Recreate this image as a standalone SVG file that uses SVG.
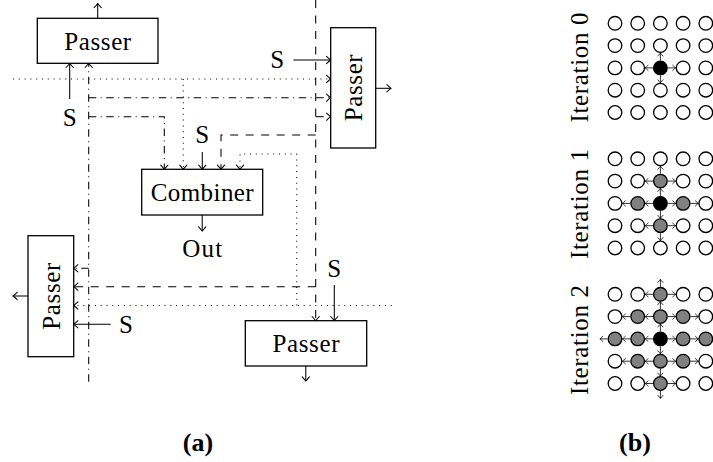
<svg xmlns="http://www.w3.org/2000/svg" width="713" height="462" viewBox="0 0 713 462">
  <defs>
    <style>
      text { font-family: "Liberation Serif", "Times New Roman", serif; fill: #000; }
      .lbl { font-size: 25px; text-anchor: middle; }
      .cap { font-size: 26px; font-weight: bold; text-anchor: middle; }
      .box { fill: #fff; stroke: #000; stroke-width: 1.3; }
      .ln { fill: none; stroke: #000; stroke-width: 1.05; }
      .dashed { stroke-dasharray: 8 7.5; }
      .dotted { stroke-dasharray: 1 4.8; }
      .dashdot { stroke-dasharray: 7.5 4.5 1 4.5; }
      .arr { marker-end: url(#tip); }
      .w { fill: #fff; stroke: #000; stroke-width: 1.3; }
      .g { fill: #808080; stroke: #000; stroke-width: 1.3; }
      .k { fill: #000; stroke: #000; stroke-width: 1.3; }
      .ga { fill: none; stroke: #000; stroke-width: 0.8; marker-end: url(#tip-s); }
    </style>
    <marker id="tip" markerUnits="userSpaceOnUse" viewBox="-6 -5 8 10" refX="0" refY="0" markerWidth="8" markerHeight="10" orient="auto" overflow="visible">
      <path d="M -4.2 -3.6 Q -1.2 -0.9 0 0 Q -1.2 0.9 -4.2 3.6" fill="none" stroke="#000" stroke-width="1.05" stroke-linecap="round"/>
    </marker>
    <marker id="tip-s" markerUnits="userSpaceOnUse" viewBox="-4 -3 5 6" refX="0" refY="0" markerWidth="5" markerHeight="6" orient="auto" overflow="visible">
      <path d="M -3 -2.6 Q -0.9 -0.6 0 0 Q -0.9 0.6 -3 2.6" fill="none" stroke="#000" stroke-width="0.8" stroke-linecap="round"/>
    </marker>
  </defs>

  <rect width="713" height="462" fill="#fff"/>

  <!-- (a) combiner / passer network -->
  <g id="connectors">
    <!-- dash-dot bus -->
    <path class="ln dashdot arr" d="M 88.7 381.7 V 63.3"/>
    <path class="ln dashdot arr" d="M 88.7 97.7 H 330.7"/>
    <path class="ln dashdot arr" d="M 88.7 116.7 H 164.3 V 169.3"/>
    <path class="ln dashdot arr" d="M 88.7 268.3 H 73.7"/>
    <!-- dotted buses -->
    <path class="ln dotted arr" d="M 13 79 H 330.7"/>
    <path class="ln dotted arr" d="M 183.3 79 V 169.3"/>
    <path class="ln dotted arr" d="M 391.7 305.5 H 73.7"/>
    <path class="ln dotted arr" d="M 296.7 305.5 V 154 H 240 V 169.3"/>
    <!-- dashed bus -->
    <path class="ln dashed arr" d="M 315.7 0 V 320.7"/>
    <path class="ln dashed arr" d="M 315.7 116.7 H 330.7"/>
    <path class="ln dashed arr" d="M 315.7 135 H 221 V 169.3"/>
    <path class="ln dashed arr" d="M 315.7 286.7 H 73.7"/>
    <!-- S inputs -->
    <path class="ln arr" d="M 69.7 99 V 63.3"/>
    <path class="ln arr" d="M 293.3 60 H 330.7"/>
    <path class="ln arr" d="M 202.3 152 V 169.3"/>
    <path class="ln arr" d="M 110.7 324.3 H 73.7"/>
    <path class="ln arr" d="M 334.3 285 V 320.7"/>
    <!-- outputs -->
    <path class="ln arr" d="M 97.7 18.3 V 3.5"/>
    <path class="ln arr" d="M 375.7 88.3 H 391"/>
    <path class="ln arr" d="M 202.2 215 V 231"/>
    <path class="ln arr" d="M 28 296 H 13"/>
    <path class="ln arr" d="M 305.8 366 V 381"/>
  </g>

  <g id="passer-top">
    <rect class="box" x="37.3" y="18.3" width="120.7" height="45"/>
    <text class="lbl" x="97.7" y="50" textLength="67">Passer</text>
  </g>
  <g id="passer-right">
    <rect class="box" x="330.7" y="27.7" width="45" height="120.3"/>
    <text class="lbl" transform="translate(361.7 87.8) rotate(-90)" textLength="67">Passer</text>
  </g>
  <g id="combiner">
    <rect class="box" x="141.7" y="169.3" width="121" height="45.7"/>
    <text class="lbl" x="202.2" y="200.5" textLength="103">Combiner</text>
  </g>
  <g id="out">
    <text class="lbl" x="202.2" y="257" textLength="40">Out</text>
  </g>
  <g id="passer-left">
    <rect class="box" x="28" y="235.7" width="45.7" height="121"/>
    <text class="lbl" transform="translate(59.5 296.2) rotate(-90)" textLength="67">Passer</text>
  </g>
  <g id="passer-bottom">
    <rect class="box" x="245.3" y="320.7" width="121.4" height="45.3"/>
    <text class="lbl" x="306" y="352" textLength="67">Passer</text>
  </g>

  <g id="s-labels">
    <text class="lbl" x="69.7" y="126">S</text>
    <text class="lbl" x="277.3" y="68.3">S</text>
    <text class="lbl" x="202.3" y="143.3">S</text>
    <text class="lbl" x="126" y="333">S</text>
    <text class="lbl" x="334.3" y="276.5">S</text>
  </g>

  <text class="cap" x="198" y="451">(a)</text>

  <!-- (b) flooding iterations -->
  <g id="iteration-0">
    <text class="lbl" transform="translate(588 67.5) rotate(-90)" textLength="110">Iteration 0</text>
    <g>
      <circle class="w" cx="615" cy="23.3" r="6.8"/><circle class="w" cx="637.7" cy="23.3" r="6.8"/><circle class="w" cx="660.4" cy="23.3" r="6.8"/><circle class="w" cx="683.1" cy="23.3" r="6.8"/><circle class="w" cx="705.8" cy="23.3" r="6.8"/>
      <circle class="w" cx="615" cy="45.6" r="6.8"/><circle class="w" cx="637.7" cy="45.6" r="6.8"/><circle class="w" cx="660.4" cy="45.6" r="6.8"/><circle class="w" cx="683.1" cy="45.6" r="6.8"/><circle class="w" cx="705.8" cy="45.6" r="6.8"/>
      <circle class="w" cx="615" cy="67.9" r="6.8"/><circle class="w" cx="637.7" cy="67.9" r="6.8"/><circle class="k" cx="660.4" cy="67.9" r="6.8"/><circle class="w" cx="683.1" cy="67.9" r="6.8"/><circle class="w" cx="705.8" cy="67.9" r="6.8"/>
      <circle class="w" cx="615" cy="90.2" r="6.8"/><circle class="w" cx="637.7" cy="90.2" r="6.8"/><circle class="w" cx="660.4" cy="90.2" r="6.8"/><circle class="w" cx="683.1" cy="90.2" r="6.8"/><circle class="w" cx="705.8" cy="90.2" r="6.8"/>
      <circle class="w" cx="615" cy="112.5" r="6.8"/><circle class="w" cx="637.7" cy="112.5" r="6.8"/><circle class="w" cx="660.4" cy="112.5" r="6.8"/><circle class="w" cx="683.1" cy="112.5" r="6.8"/><circle class="w" cx="705.8" cy="112.5" r="6.8"/>
    </g>
    <g>
      <path class="ga" d="M 653 67.9 H 645.1"/>
      <path class="ga" d="M 667.8 67.9 H 675.7"/>
      <path class="ga" d="M 660.4 60.5 V 53"/>
      <path class="ga" d="M 660.4 75.3 V 82.8"/>
    </g>
  </g>

  <g id="iteration-1">
    <text class="lbl" transform="translate(588 204) rotate(-90)" textLength="110">Iteration 1</text>
    <g>
      <circle class="w" cx="615" cy="158.8" r="6.8"/><circle class="w" cx="637.7" cy="158.8" r="6.8"/><circle class="w" cx="660.4" cy="158.8" r="6.8"/><circle class="w" cx="683.1" cy="158.8" r="6.8"/><circle class="w" cx="705.8" cy="158.8" r="6.8"/>
      <circle class="w" cx="615" cy="181.1" r="6.8"/><circle class="w" cx="637.7" cy="181.1" r="6.8"/><circle class="g" cx="660.4" cy="181.1" r="6.8"/><circle class="w" cx="683.1" cy="181.1" r="6.8"/><circle class="w" cx="705.8" cy="181.1" r="6.8"/>
      <circle class="w" cx="615" cy="203.4" r="6.8"/><circle class="g" cx="637.7" cy="203.4" r="6.8"/><circle class="k" cx="660.4" cy="203.4" r="6.8"/><circle class="g" cx="683.1" cy="203.4" r="6.8"/><circle class="w" cx="705.8" cy="203.4" r="6.8"/>
      <circle class="w" cx="615" cy="225.7" r="6.8"/><circle class="w" cx="637.7" cy="225.7" r="6.8"/><circle class="g" cx="660.4" cy="225.7" r="6.8"/><circle class="w" cx="683.1" cy="225.7" r="6.8"/><circle class="w" cx="705.8" cy="225.7" r="6.8"/>
      <circle class="w" cx="615" cy="248" r="6.8"/><circle class="w" cx="637.7" cy="248" r="6.8"/><circle class="w" cx="660.4" cy="248" r="6.8"/><circle class="w" cx="683.1" cy="248" r="6.8"/><circle class="w" cx="705.8" cy="248" r="6.8"/>
    </g>
    <g>
      <path class="ga" d="M 653 203.4 H 645.1"/>
      <path class="ga" d="M 667.8 203.4 H 675.7"/>
      <path class="ga" d="M 660.4 196 V 188.5"/>
      <path class="ga" d="M 660.4 210.8 V 218.3"/>
      <path class="ga" d="M 660.4 173.7 V 166.2"/>
      <path class="ga" d="M 653 181.1 H 645.1"/>
      <path class="ga" d="M 667.8 181.1 H 675.7"/>
      <path class="ga" d="M 660.4 233.1 V 240.6"/>
      <path class="ga" d="M 653 225.7 H 645.1"/>
      <path class="ga" d="M 667.8 225.7 H 675.7"/>
      <path class="ga" d="M 630.3 203.4 H 622.4"/>
      <path class="ga" d="M 690.5 203.4 H 698.4"/>
    </g>
  </g>

  <g id="iteration-2">
    <text class="lbl" transform="translate(588 340) rotate(-90)" textLength="110">Iteration 2</text>
    <g>
      <circle class="w" cx="615" cy="294.3" r="6.8"/><circle class="w" cx="637.7" cy="294.3" r="6.8"/><circle class="g" cx="660.4" cy="294.3" r="6.8"/><circle class="w" cx="683.1" cy="294.3" r="6.8"/><circle class="w" cx="705.8" cy="294.3" r="6.8"/>
      <circle class="w" cx="615" cy="316.6" r="6.8"/><circle class="g" cx="637.7" cy="316.6" r="6.8"/><circle class="g" cx="660.4" cy="316.6" r="6.8"/><circle class="g" cx="683.1" cy="316.6" r="6.8"/><circle class="w" cx="705.8" cy="316.6" r="6.8"/>
      <circle class="g" cx="615" cy="338.9" r="6.8"/><circle class="g" cx="637.7" cy="338.9" r="6.8"/><circle class="k" cx="660.4" cy="338.9" r="6.8"/><circle class="g" cx="683.1" cy="338.9" r="6.8"/><circle class="g" cx="705.8" cy="338.9" r="6.8"/>
      <circle class="w" cx="615" cy="361.2" r="6.8"/><circle class="g" cx="637.7" cy="361.2" r="6.8"/><circle class="g" cx="660.4" cy="361.2" r="6.8"/><circle class="g" cx="683.1" cy="361.2" r="6.8"/><circle class="w" cx="705.8" cy="361.2" r="6.8"/>
      <circle class="w" cx="615" cy="383.5" r="6.8"/><circle class="w" cx="637.7" cy="383.5" r="6.8"/><circle class="g" cx="660.4" cy="383.5" r="6.8"/><circle class="w" cx="683.1" cy="383.5" r="6.8"/><circle class="w" cx="705.8" cy="383.5" r="6.8"/>
    </g>
    <g>
      <!-- centre -->
      <path class="ga" d="M 653 338.9 H 645.1"/>
      <path class="ga" d="M 667.8 338.9 H 675.7"/>
      <path class="ga" d="M 660.4 331.5 V 324"/>
      <path class="ga" d="M 660.4 346.3 V 353.8"/>
      <!-- centre column -->
      <path class="ga" d="M 660.4 309.2 V 301.7"/>
      <path class="ga" d="M 653 316.6 H 645.1"/>
      <path class="ga" d="M 667.8 316.6 H 675.7"/>
      <path class="ga" d="M 660.4 286.9 V 279.4"/>
      <path class="ga" d="M 653 294.3 H 645.1"/>
      <path class="ga" d="M 667.8 294.3 H 675.7"/>
      <path class="ga" d="M 660.4 368.6 V 376.1"/>
      <path class="ga" d="M 653 361.2 H 645.1"/>
      <path class="ga" d="M 667.8 361.2 H 675.7"/>
      <path class="ga" d="M 660.4 390.9 V 398.4"/>
      <path class="ga" d="M 653 383.5 H 645.1"/>
      <path class="ga" d="M 667.8 383.5 H 675.7"/>
      <!-- row spread -->
      <path class="ga" d="M 630.3 316.6 H 622.4"/>
      <path class="ga" d="M 690.5 316.6 H 698.4"/>
      <path class="ga" d="M 630.3 338.9 H 622.4"/>
      <path class="ga" d="M 607.6 338.9 H 599.9"/>
      <path class="ga" d="M 690.5 338.9 H 698.4"/>
      <path class="ga" d="M 713 338.9 H 720"/>
      <path class="ga" d="M 630.3 361.2 H 622.4"/>
      <path class="ga" d="M 690.5 361.2 H 698.4"/>
    </g>
  </g>

  <text class="cap" x="635" y="451">(b)</text>
</svg>
